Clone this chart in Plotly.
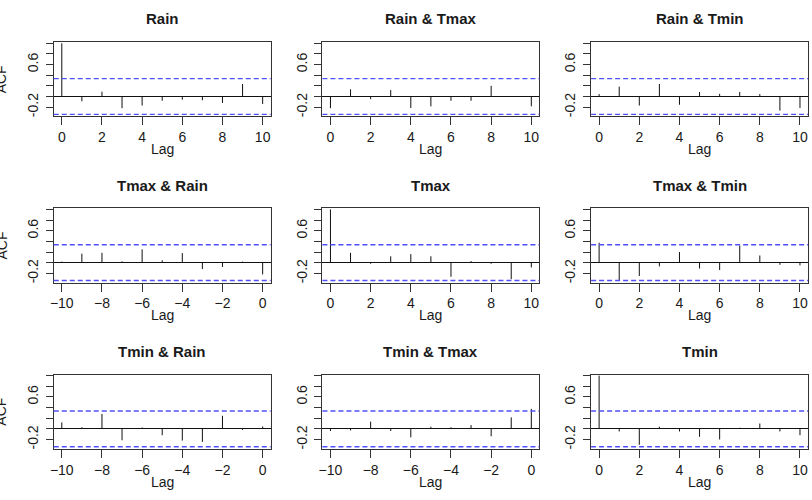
import plotly.graph_objects as go

# ---- data ----
lags_pos = [0, 1, 2, 3, 4, 5, 6, 7, 8, 9, 10]
lags_neg = [-10, -9, -8, -7, -6, -5, -4, -3, -2, -1, 0]

rain = [1.0, -0.09, 0.09, -0.22, -0.17, -0.08, -0.06, -0.07, -0.12, 0.235, -0.14]
rain_tmax = [-0.22, 0.135, -0.05, 0.12, -0.215, -0.185, -0.08, -0.08, 0.20, -0.01, -0.185]
rain_tmin = [0.045, 0.185, -0.17, 0.235, -0.155, 0.085, 0.05, 0.085, 0.045, -0.265, -0.215]
tmax_rain = [0.02, 0.17, 0.185, 0.025, 0.25, 0.045, 0.18, -0.12, -0.08, 0.02, -0.22]
tmax = [1.0, 0.185, -0.02, 0.12, 0.16, 0.12, -0.265, 0.03, -0.02, -0.31, -0.09]
tmax_tmin = [0.375, -0.34, -0.25, -0.07, 0.20, -0.11, -0.14, 0.32, 0.135, -0.04, -0.05]
tmin_rain = [0.12, 0.03, 0.28, -0.215, 0.025, -0.12, -0.22, -0.245, 0.245, -0.02, 0.045]
tmin_tmax = [-0.04, -0.03, 0.135, -0.04, -0.16, 0.04, 0.03, 0.07, -0.14, 0.215, 0.375]
tmin = [1.0, -0.05, -0.30, 0.04, -0.05, -0.15, -0.20, 0.02, 0.10, -0.05, -0.12]

titles = ["Rain", "Rain & Tmax", "Rain & Tmin",
          "Tmax & Rain", "Tmax", "Tmax & Tmin",
          "Tmin & Rain", "Tmin & Tmax", "Tmin"]
panel_lags = [lags_pos, lags_pos, lags_pos,
              lags_neg, lags_pos, lags_pos,
              lags_neg, lags_neg, lags_pos]
panel_vals = [rain, rain_tmax, rain_tmin,
              tmax_rain, tmax, tmax_tmin,
              tmin_rain, tmin_tmax, tmin]

ci = 0.336
y_ticks = [-0.2, 0.0, 0.2, 0.4, 0.6, 0.8, 1.0]
y_ticktext = ["-0.2", "", "", "", "0.6", "", ""]
x_ticks_pos = [0, 2, 4, 6, 8, 10]
x_ticks_neg = [-10, -8, -6, -4, -2, 0]

# ---- layout geometry (pixels) ----
W, H = 812, 500
col_px = [(50, 268), (320, 538), (590, 808)]
row_px = [(42.3, 116.7), (208.8, 283.2), (375.3, 449.7)]
title_y = [19, 185.5, 352]
lag_y = [149.5, 316, 482.5]

FONT = "Liberation Sans, Arial, Helvetica, sans-serif"
TXT = "#1a1a1a"

fig = go.Figure()
layout = dict(width=W, height=H, margin=dict(l=0, r=0, t=0, b=0),
              paper_bgcolor="white", plot_bgcolor="white", showlegend=False)
shapes = []
annotations = []

for k in range(9):
    r, c = divmod(k, 3)
    idx = k + 1
    xa = "x" if idx == 1 else f"x{idx}"
    ya = "y" if idx == 1 else f"y{idx}"
    lags = panel_lags[k]
    vals = panel_vals[k]
    xs, ys = [], []
    for lg, v in zip(lags, vals):
        xs += [lg, lg, None]
        ys += [0, v, None]
    fig.add_trace(go.Scatter(x=xs, y=ys, mode="lines",
                             line=dict(color="#111111", width=1),
                             xaxis=xa, yaxis=ya, hoverinfo="skip"))
    x0, x1 = col_px[c]
    y0, y1 = row_px[r]
    neg = lags[0] < 0
    layout["xaxis" if idx == 1 else f"xaxis{idx}"] = dict(
        domain=[x0 / W, x1 / W], anchor=ya,
        range=[-10.4, 0.4] if neg else [-0.4, 10.4],
        tickvals=x_ticks_neg if neg else x_ticks_pos,
        ticks="outside", ticklen=8, tickcolor="#333", tickwidth=1,
        showline=True, linecolor="#333", linewidth=1, mirror=True,
        showgrid=False, zeroline=False,
        tickfont=dict(family=FONT, size=14, color=TXT),
        ticklabelstandoff=0)
    layout["yaxis" if idx == 1 else f"yaxis{idx}"] = dict(
        domain=[1 - y1 / H, 1 - y0 / H], anchor=xa,
        range=[-0.375, 1.02],
        tickvals=y_ticks, ticktext=y_ticktext,
        ticks="outside", ticklen=7, tickcolor="#333", tickwidth=1,
        tickangle=-90, ticklabelstandoff=2,
        showline=True, linecolor="#333", linewidth=1, mirror=True,
        showgrid=False, zeroline=True, zerolinecolor="#111", zerolinewidth=1,
        tickfont=dict(family=FONT, size=14, color=TXT))
    for yv in (ci, -ci):
        shapes.append(dict(type="line", xref=f"{xa} domain", yref=ya,
                           x0=0, x1=1, y0=yv, y1=yv,
                           line=dict(color="rgb(80,80,255)", width=1.4, dash="5px,3px")))
    cx = (x0 + x1) / 2
    annotations.append(dict(text="<b>" + titles[k].replace("&", "&amp;") + "</b>",
                            xref="paper", yref="paper",
                            x=cx / W, y=1 - title_y[r] / H,
                            xanchor="center", yanchor="middle", showarrow=False,
                            font=dict(family=FONT, size=15, color=TXT)))
    annotations.append(dict(text="Lag", xref="paper", yref="paper",
                            x=cx / W, y=1 - lag_y[r] / H,
                            xanchor="center", yanchor="middle", showarrow=False,
                            font=dict(family=FONT, size=14, color=TXT)))
    if c == 0:
        annotations.append(dict(text="ACF", xref="paper", yref="paper",
                                x=-3 / W, y=1 - ((y0 + y1) / 2) / H,
                                xanchor="center", yanchor="middle", showarrow=False,
                                textangle=-90,
                                font=dict(family=FONT, size=14, color=TXT)))

layout["shapes"] = shapes
layout["annotations"] = annotations
fig.update_layout(**layout)
fig.write_html("out.html",
               config={"displayModeBar": False},
               post_script="document.body.style.margin='0px';document.body.style.overflow='hidden';")
